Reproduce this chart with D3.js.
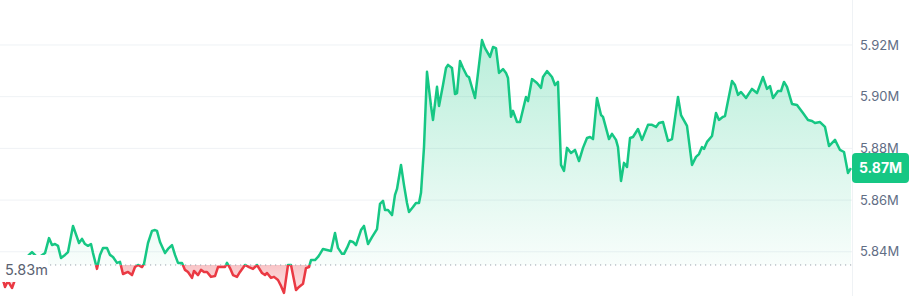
<!DOCTYPE html>
<html>
<head>
<meta charset="utf-8">
<script src="https://cdn.jsdelivr.net/npm/d3@7"></script>
<style>
  html, body { margin: 0; padding: 0; background: #fff; }
  #chart { width: 911px; height: 296px; }
  text { font-family: Inter, "Noto Sans", sans-serif; }
</style>
</head>
<body>
<div id="chart"></div>
<script>
// minutes since start of the window
const times = [0, 5, 8, 12, 17, 23, 29, 32, 38, 45, 49, 52, 55, 58, 61, 65, 68, 73, 79, 82,
  85, 88, 91, 93, 97, 100, 103, 107, 110, 113, 117, 120, 123, 128, 132, 135, 138, 142, 144, 148,
  152, 155, 157, 160, 165, 168, 172, 175, 178, 182, 185, 188, 192, 194, 198, 201, 204, 207, 211, 215,
  218, 223, 225, 227, 230, 233, 237, 240, 245, 249, 253, 257, 262, 265, 267, 271, 274, 278, 281, 284,
  288, 291, 293, 296, 299, 303, 306, 309, 311, 315, 318, 320, 323, 327, 331, 335, 338, 342, 344, 347,
  350, 353, 356, 361, 364, 368, 372, 377, 380, 383, 385, 388, 392, 395, 397, 401, 404, 407, 409, 413,
  416, 419, 421, 424, 427, 431, 433, 437, 439, 443, 446, 448, 452, 455, 457, 460, 463, 467, 469, 475,
  482, 485, 490, 493, 496, 499, 503, 506, 508, 511, 513, 517, 520, 526, 528, 532, 537, 541, 543, 547,
  552, 555, 558, 561, 564, 567, 571, 575, 579, 583, 587, 590, 593, 597, 601, 603, 609, 612, 616, 618,
  621, 624, 627, 630, 633, 638, 642, 648, 652, 656, 659, 663, 668, 672, 678, 681, 687, 692, 696, 699,
  702, 704, 707, 712, 716, 719, 723, 725, 732, 735, 738, 741, 746, 752, 757, 763, 767, 770, 773, 778,
  781, 784, 787, 792, 797, 803, 808, 812, 815, 820, 825, 829, 835, 840, 844, 848, 851];

// price in millions
const prices = [5.8330, 5.8264, 5.8287, 5.8260, 5.8314, 5.8361, 5.8388, 5.8399, 5.8376, 5.8395, 5.8453, 5.8426, 5.8430, 5.8423, 5.8376, 5.8388, 5.8399, 5.8500, 5.8434, 5.8450,
  5.8430, 5.8423, 5.8430, 5.8395, 5.8334, 5.8388, 5.8415, 5.8415, 5.8388, 5.8380, 5.8357, 5.8361, 5.8314, 5.8322, 5.8310, 5.8341, 5.8349, 5.8341, 5.8353, 5.8434,
  5.8481, 5.8484, 5.8481, 5.8438, 5.8395, 5.8411, 5.8426, 5.8388, 5.8357, 5.8357, 5.8330, 5.8322, 5.8299, 5.8326, 5.8310, 5.8330, 5.8322, 5.8322, 5.8303, 5.8306,
  5.8341, 5.8341, 5.8341, 5.8357, 5.8337, 5.8310, 5.8303, 5.8322, 5.8349, 5.8341, 5.8334, 5.8349, 5.8318, 5.8310, 5.8318, 5.8299, 5.8303, 5.8291, 5.8268, 5.8241,
  5.8349, 5.8349, 5.8310, 5.8252, 5.8264, 5.8276, 5.8337, 5.8341, 5.8368, 5.8368, 5.8380, 5.8392, 5.8411, 5.8407, 5.8403, 5.8473, 5.8415, 5.8392, 5.8392, 5.8415,
  5.8442, 5.8438, 5.8426, 5.8484, 5.8500, 5.8430, 5.8457, 5.8488, 5.8585, 5.8597, 5.8562, 5.8562, 5.8542, 5.8620, 5.8643, 5.8736, 5.8658, 5.8589, 5.8554, 5.8573,
  5.8589, 5.8589, 5.8628, 5.8805, 5.9096, 5.8964, 5.8910, 5.9038, 5.8964, 5.9045, 5.9111, 5.9123, 5.9111, 5.9010, 5.9014, 5.9138, 5.9111, 5.9080, 5.9076, 5.8995,
  5.9219, 5.9188, 5.9154, 5.9192, 5.9188, 5.9092, 5.9107, 5.9092, 5.9072, 5.8922, 5.8945, 5.8902, 5.8902, 5.8999, 5.8983, 5.9068, 5.9053, 5.9034, 5.9076, 5.9099,
  5.9076, 5.9045, 5.9057, 5.8736, 5.8713, 5.8802, 5.8782, 5.8794, 5.8751, 5.8802, 5.8840, 5.8844, 5.8836, 5.8995, 5.8929, 5.8922, 5.8836, 5.8856, 5.8833, 5.8805,
  5.8674, 5.8744, 5.8728, 5.8840, 5.8844, 5.8875, 5.8833, 5.8891, 5.8891, 5.8883, 5.8898, 5.8902, 5.8829, 5.8836, 5.8999, 5.8929, 5.8887, 5.8736, 5.8767, 5.8778,
  5.8805, 5.8798, 5.8825, 5.8848, 5.8937, 5.8910, 5.8922, 5.8925, 5.9061, 5.9045, 5.9007, 5.9018, 5.8995, 5.9030, 5.9014, 5.9076, 5.9030, 5.9041, 5.8995, 5.9022,
  5.9022, 5.9057, 5.9038, 5.8972, 5.8968, 5.8937, 5.8910, 5.8906, 5.8898, 5.8902, 5.8883, 5.8809, 5.8833, 5.8794, 5.8786, 5.8705, 5.8724];

const yTicks = [5.84, 5.86, 5.88, 5.90, 5.92];
const openPrice = 5.8349;
const openLabel = "5.83m";
const lastLabel = "5.87M";

const W = 911, H = 296, plotW = 852;
const green = "#16c784", red = "#ea3943";

const x = d3.scaleLinear().domain([0, 852]).range([0, plotW]);
const y = d3.scaleLinear().domain([5.8229, 5.9374]).range([H, 0]);

const svg = d3.select("#chart").append("svg")
  .attr("width", W).attr("height", H)
  .attr("viewBox", [0, 0, W, H]);

const defs = svg.append("defs");
const baseY = y(openPrice);

const gUp = defs.append("linearGradient").attr("id", "gUp")
  .attr("gradientUnits", "userSpaceOnUse")
  .attr("x1", 0).attr("x2", 0).attr("y1", y(5.922)).attr("y2", baseY);
gUp.append("stop").attr("offset", 0).attr("stop-color", green).attr("stop-opacity", 0.3);
gUp.append("stop").attr("offset", 1).attr("stop-color", green).attr("stop-opacity", 0.03);

const gDown = defs.append("linearGradient").attr("id", "gDown")
  .attr("gradientUnits", "userSpaceOnUse")
  .attr("x1", 0).attr("x2", 0).attr("y1", baseY).attr("y2", H);
gDown.append("stop").attr("offset", 0).attr("stop-color", red).attr("stop-opacity", 0.3);
gDown.append("stop").attr("offset", 1).attr("stop-color", red).attr("stop-opacity", 0.12);

defs.append("clipPath").attr("id", "clipUp")
  .append("rect").attr("x", 0).attr("y", 0).attr("width", plotW).attr("height", baseY);
defs.append("clipPath").attr("id", "clipDown")
  .append("rect").attr("x", 0).attr("y", baseY).attr("width", plotW).attr("height", H - baseY);

// grid
svg.append("g").selectAll("line")
  .data(yTicks)
  .join("line")
    .attr("x1", 0).attr("x2", plotW)
    .attr("y1", d => y(d)).attr("y2", d => y(d))
    .attr("stroke", "#eff2f5").attr("stroke-width", 1);

svg.append("line")
  .attr("x1", plotW + 0.5).attr("x2", plotW + 0.5)
  .attr("y1", 0).attr("y2", H)
  .attr("stroke", "#eff2f5");

const pts = times.map((t, i) => [t, prices[i]]);

const area = d3.area()
  .x(d => x(d[0]))
  .y0(baseY)
  .y1(d => y(d[1]));

const line = d3.line()
  .x(d => x(d[0]))
  .y(d => y(d[1]));

const up = svg.append("g").attr("clip-path", "url(#clipUp)");
up.append("path").datum(pts).attr("d", area).attr("fill", "url(#gUp)");
up.append("path").datum(pts).attr("d", line)
  .attr("fill", "none").attr("stroke", green).attr("stroke-width", 2.5)
  .attr("stroke-linejoin", "round");

const down = svg.append("g").attr("clip-path", "url(#clipDown)");
down.append("path").datum(pts).attr("d", area).attr("fill", "url(#gDown)");
down.append("path").datum(pts).attr("d", line)
  .attr("fill", "none").attr("stroke", red).attr("stroke-width", 2.5)
  .attr("stroke-linejoin", "round");

// baseline (open price)
svg.append("line")
  .attr("x1", 0).attr("x2", plotW)
  .attr("y1", baseY).attr("y2", baseY)
  .attr("stroke", "#9aa1ad").attr("stroke-width", 1)
  .attr("stroke-dasharray", "1.2 3.8");

svg.append("rect")
  .attr("x", 0).attr("y", baseY - 10).attr("width", 48).attr("height", 27)
  .attr("fill", "#fff");
svg.append("text")
  .attr("x", 5).attr("y", baseY + 10)
  .attr("font-size", 14.5).attr("fill", "#5b6271")
  .text(openLabel);

// right axis
const axis = svg.append("g")
  .attr("transform", `translate(860,0)`)
  .call(d3.axisRight(y).tickValues(yTicks).tickSize(0).tickPadding(0)
    .tickFormat(d => d.toFixed(2) + "M"));
axis.select(".domain").remove();
axis.selectAll("text")
  .attr("font-family", "Inter, sans-serif")
  .attr("font-size", 13)
  .attr("fill", "#616e85");

// last price tag
const lastY = y(prices[prices.length - 1]);
svg.append("rect")
  .attr("x", plotW).attr("y", lastY - 15)
  .attr("width", 57).attr("height", 30).attr("rx", 4)
  .attr("fill", green);
svg.append("text")
  .attr("x", plotW + 28.5).attr("y", lastY + 5)
  .attr("text-anchor", "middle")
  .attr("font-size", 14).attr("font-weight", 700).attr("fill", "#fff")
  .text(lastLabel);
</script>
</body>
</html>
